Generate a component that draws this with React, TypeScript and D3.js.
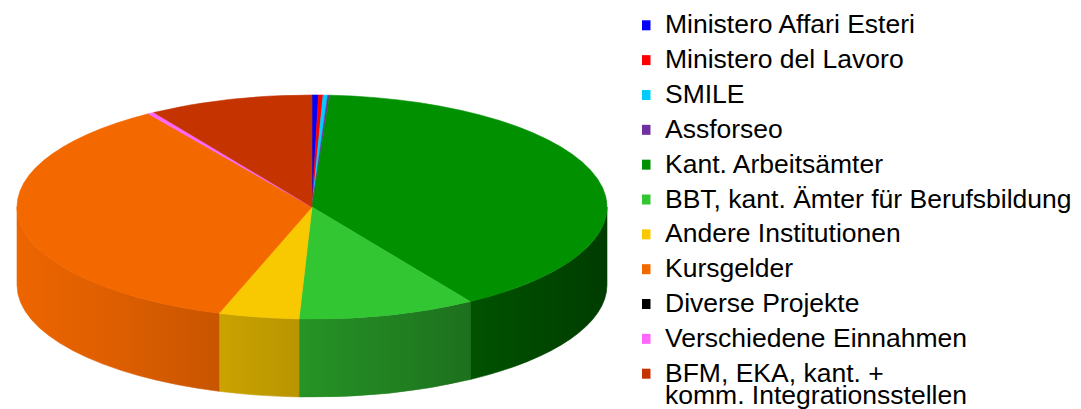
import React from "react";
import * as d3 from "d3";

const categories = [
  "Ministero Affari Esteri",
  "Ministero del Lavoro",
  "SMILE",
  "Assforseo",
  "Kant. Arbeitsämter",
  "BBT, kant. Ämter für Berufsbildung",
  "Andere Institutionen",
  "Kursgelder",
  "Diverse Projekte",
  "Verschiedene Einnahmen",
  "BFM, EKA, kant. +\nkomm. Integrationsstellen",
];
const values = [0.35, 0.25, 0.25, 0.1, 40, 9.7, 4.4, 35.5, 0, 0.35, 9];
const colors = [
  "#0000ff", "#ff0000", "#00ccff", "#7030a0", "#009000", "#33c633",
  "#f8c800", "#f46800", "#000000", "#ff66ff", "#c43300",
];

const W = 1081, H = 409;
const cx = 312, cy = 207, rx = 295, ry = 112, depth = 78;

function pt(a: number, dy = 0): [number, number] {
  return [cx + rx * Math.sin(a), cy - ry * Math.cos(a) + dy];
}

function shade(c: string, k: number) {
  const r = d3.rgb(c);
  return d3.rgb(r.r * k, r.g * k, r.b * k).formatHex();
}
const light = (t: number) => 0.97 - 0.55 * Math.pow(t, 1.2);

export default function App() {
  const pie = d3.pie<number>().sort(null).value((d) => d).startAngle(0).endAngle(2 * Math.PI);
  const arcs = pie(values);

  const sides = arcs.map((a, i) => {
    const s = Math.max(a.startAngle, Math.PI / 2);
    const e = Math.min(a.endAngle, (3 * Math.PI) / 2);
    if (e <= s) return null;
    const p0 = pt(s), p1 = pt(e), p2 = pt(e, depth), p3 = pt(s, depth);
    const large = e - s > Math.PI ? 1 : 0;
    const d = `M${p0[0]},${p0[1]} A${rx},${ry} 0 ${large} 1 ${p1[0]},${p1[1]} L${p2[0]},${p2[1]} A${rx},${ry} 0 ${large} 0 ${p3[0]},${p3[1]} Z`;
    return <path key={"s" + i} d={d} fill={`url(#g${i})`} stroke={`url(#g${i})`} strokeWidth={0.6} />;
  });

  const tops = arcs.map((a, i) => {
    if (a.endAngle - a.startAngle <= 0) return null;
    const p0 = pt(a.startAngle), p1 = pt(a.endAngle);
    const large = a.endAngle - a.startAngle > Math.PI ? 1 : 0;
    const d = `M${cx},${cy} L${p0[0]},${p0[1]} A${rx},${ry} 0 ${large} 1 ${p1[0]},${p1[1]} Z`;
    return <path key={"t" + i} d={d} fill={colors[i]} stroke={colors[i]} strokeWidth={0.6} strokeLinejoin="round" />;
  });

  const stops = d3.range(0, 1.0001, 0.1);
  const legendX = 642, textX = 665, base0 = 33.3, step = 34.84;

  return (
    <svg width={W} height={H} style={{ position: "absolute", left: 0, top: 0, background: "#fff" }}
      fontFamily="'Liberation Sans', Arial, sans-serif">
      <defs>
        {colors.map((c, i) => (
          <linearGradient key={i} id={`g${i}`} gradientUnits="userSpaceOnUse" x1={cx - rx} y1={0} x2={cx + rx} y2={0}>
            {stops.map((t, j) => (
              <stop key={j} offset={t} stopColor={shade(c, light(t))} />
            ))}
          </linearGradient>
        ))}
      </defs>
      <g>{sides}</g>
      <g>{tops}</g>
      <g>
        {categories.map((name, i) => {
          const by = base0 + i * step;
          const lines = name.split("\n");
          return (
            <g key={i}>
              <rect x={legendX} y={by - 13} width={8.5} height={10} fill={colors[i]} />
              {lines.map((l, k) => (
                <text key={k} x={textX} y={by + k * 22.5} fontSize={26.5} fill="#000">{l}</text>
              ))}
            </g>
          );
        })}
      </g>
    </svg>
  );
}
